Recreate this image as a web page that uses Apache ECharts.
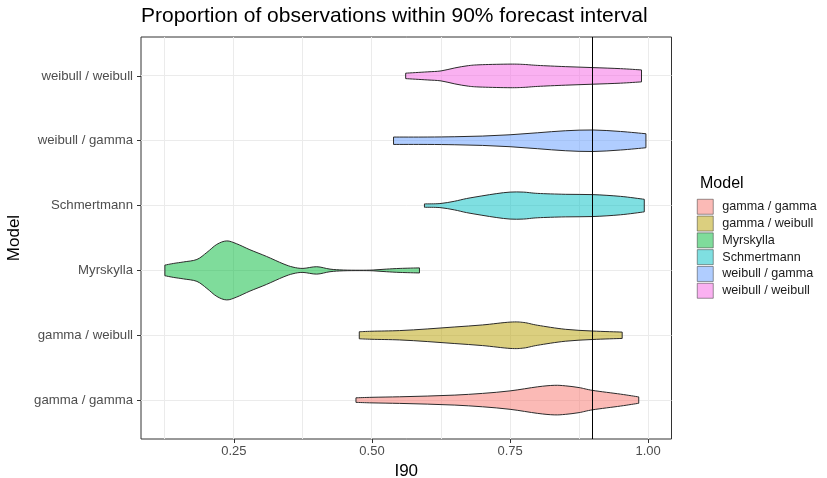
<!DOCTYPE html>
<html>
<head>
<meta charset="utf-8">
<script src="https://cdn.jsdelivr.net/npm/echarts@6/dist/echarts.min.js"></script>
<style>
  html,body{margin:0;padding:0;background:#fff;}
  #chart{width:827px;height:478px;}
</style>
</head>
<body>
<div id="chart"></div>
<script>
// categories, bottom to top
const models = ['gamma / gamma', 'gamma / weibull', 'Myrskylla', 'Schmertmann', 'weibull / gamma', 'weibull / weibull']
const colours = ['#F8766D', '#B79F00', '#00BA38', '#00BFC4', '#619CFF', '#F564E3']

const xTicks = [0.25, 0.5, 0.75, 1.0]
const xMinorGrid = [0.125, 0.375, 0.625, 0.875]
const refLine = 0.9

// violin outlines: I90 value and half width (in category units)
const gammaGammaX = [0.471, 0.50, 0.55, 0.60, 0.65, 0.70, 0.75, 0.80, 0.83, 0.85, 0.875, 0.90, 0.95, 0.983]
const gammaGammaW = [0.035, 0.043, 0.051, 0.062, 0.077, 0.103, 0.142, 0.205, 0.228, 0.220, 0.193, 0.149, 0.092, 0.049]

const gammaWeibullX = [0.477, 0.50, 0.55, 0.60, 0.65, 0.70, 0.75, 0.775, 0.80, 0.85, 0.90, 0.953]
const gammaWeibullW = [0.054, 0.062, 0.072, 0.097, 0.128, 0.159, 0.203, 0.197, 0.154, 0.092, 0.065, 0.049]

const myrskyllaX = [0.125, 0.141, 0.159, 0.183, 0.201, 0.219, 0.237, 0.255, 0.279, 0.309, 0.339, 0.357, 0.375, 0.400, 0.424, 0.448, 0.478, 0.502, 0.526, 0.551, 0.586]
const myrskyllaW = [0.082, 0.108, 0.131, 0.169, 0.277, 0.401, 0.455, 0.411, 0.319, 0.216, 0.103, 0.051, 0.031, 0.057, 0.020, 0.006, 0.003, 0.006, 0.020, 0.031, 0.039]

const schmertmannX = [0.595, 0.623, 0.649, 0.671, 0.699, 0.726, 0.750, 0.774, 0.800, 0.850, 0.900, 0.950, 0.993]
const schmertmannW = [0.026, 0.031, 0.066, 0.108, 0.149, 0.185, 0.208, 0.208, 0.188, 0.174, 0.169, 0.142, 0.097]

const weibullGammaX = [0.539, 0.60, 0.65, 0.70, 0.75, 0.80, 0.85, 0.90, 0.95, 0.996]
const weibullGammaW = [0.057, 0.057, 0.062, 0.072, 0.092, 0.123, 0.154, 0.166, 0.143, 0.108]

const weibullWeibullX = [0.561, 0.60, 0.625, 0.65, 0.675, 0.70, 0.75, 0.775, 0.80, 0.85, 0.90, 0.95, 0.988]
const weibullWeibullW = [0.042, 0.062, 0.077, 0.123, 0.159, 0.173, 0.182, 0.177, 0.162, 0.143, 0.128, 0.112, 0.092]

const profiles = [
  [gammaGammaX, gammaGammaW],
  [gammaWeibullX, gammaWeibullW],
  [myrskyllaX, myrskyllaW],
  [schmertmannX, schmertmannW],
  [weibullGammaX, weibullGammaW],
  [weibullWeibullX, weibullWeibullW]
]

const font = '"Liberation Sans", Arial, Helvetica, sans-serif'
const xMin = 0.0818, xMax = 1.0423
const yMin = -0.6, yMax = 5.6

const hexToRgba = (hex, a) => {
  const n = parseInt(hex.slice(1), 16)
  return 'rgba(' + (n >> 16) + ',' + ((n >> 8) & 255) + ',' + (n & 255) + ',' + a + ')'
}

// snap a 1px line onto the pixel grid so it stays crisp
const crisp = v => Math.round(v - 0.5) + 0.5

// catmull-rom through the outline points so the edge looks smooth
const curveThrough = (pts) => {
  let d = ''
  for (let i = 0; i < pts.length - 1; i++) {
    const p0 = pts[i - 1] || pts[i]
    const p1 = pts[i]
    const p2 = pts[i + 1]
    const p3 = pts[i + 2] || pts[i + 1]
    const c1 = [p1[0] + (p2[0] - p0[0]) / 6, p1[1] + (p2[1] - p0[1]) / 6]
    const c2 = [p2[0] - (p3[0] - p1[0]) / 6, p2[1] - (p3[1] - p1[1]) / 6]
    d += 'C' + c1[0] + ',' + c1[1] + ' ' + c2[0] + ',' + c2[1] + ' ' + p2[0] + ',' + p2[1]
  }
  return d
}

const violinSeries = models.map((name, i) => ({
  name: name,
  type: 'custom',
  z: 3,
  itemStyle: { color: hexToRgba(colours[i], 0.5), borderColor: '#333333', borderWidth: 0.5 },
  encode: { x: 0, y: 1 },
  data: [[0.5, i]],
  renderItem: (params, api) => {
    const cat = api.value(1)
    const xs = profiles[i][0]
    const ws = profiles[i][1]
    const top = xs.map((x, k) => api.coord([x, cat + ws[k]]))
    const bottom = xs.map((x, k) => api.coord([x, cat - ws[k]])).reverse()
    let d = 'M' + top[0][0] + ',' + top[0][1]
    d += curveThrough(top)
    d += 'L' + bottom[0][0] + ',' + bottom[0][1]
    d += curveThrough(bottom)
    d += 'Z'
    return {
      type: 'path',
      shape: { pathData: d },
      style: { fill: hexToRgba(colours[i], 0.5), stroke: '#2b2b2b', lineWidth: 1 }
    }
  }
}))

const vLines = (name, values, colour, z) => ({
  name: name,
  type: 'custom',
  z: z,
  silent: true,
  encode: { x: 0, y: 1 },
  data: values.map(v => [v, 2.5]),
  renderItem: (params, api) => {
    const a = api.coord([api.value(0), yMin])
    const b = api.coord([api.value(0), yMax])
    const x = crisp(a[0])
    return { type: 'line', shape: { x1: x, y1: a[1], x2: x, y2: b[1] }, style: { stroke: colour, lineWidth: 1 } }
  }
})

const hLines = {
  name: 'hgrid',
  type: 'custom',
  z: 1,
  silent: true,
  encode: { x: 0, y: 1 },
  data: models.map((m, i) => [0.5, i]),
  renderItem: (params, api) => {
    const a = api.coord([xMin, api.value(1)])
    const b = api.coord([xMax, api.value(1)])
    const y = crisp(a[1])
    return { type: 'line', shape: { x1: a[0], y1: y, x2: b[0], y2: y }, style: { stroke: '#EBEBEB', lineWidth: 1 } }
  }
}

const chart = echarts.init(document.getElementById('chart'), null, { renderer: 'canvas' })

chart.setOption({
  animation: false,
  backgroundColor: '#ffffff',
  textStyle: { fontFamily: font },
  title: [
    {
      text: 'Proportion of observations within 90% forecast interval',
      left: 141, top: 6, padding: 0,
      textStyle: { fontSize: 21, fontWeight: 'normal', color: '#000', fontFamily: font }
    },
    {
      text: 'Model',
      left: 700, top: 176, padding: 0,
      textStyle: { fontSize: 16, fontWeight: 'normal', color: '#000', fontFamily: font }
    }
  ],
  legend: {
    data: models,
    orient: 'vertical',
    left: 697, top: 199,
    padding: 0,
    icon: 'rect',
    itemWidth: 16, itemHeight: 15, itemGap: 1.3,
    itemStyle: { borderColor: '#333333', borderWidth: 0.5 },
    textStyle: { fontSize: 12.6, color: '#1a1a1a', fontFamily: font, padding: [0, 0, 0, 4] }
  },
  grid: {
    left: 141, right: 155.5, top: 37, bottom: 39,
    containLabel: false,
    outerBoundsMode: 'none',
    show: true, borderColor: '#333333', borderWidth: 1, backgroundColor: '#ffffff'
  },
  xAxis: {
    type: 'value',
    min: xMin, max: xMax,
    name: 'I90', nameLocation: 'middle', nameGap: 22,
    nameTextStyle: { fontSize: 17, color: '#000', fontFamily: font },
    axisLine: { show: false, onZero: false },
    axisTick: { show: true, length: 4, lineStyle: { color: '#333333' }, customValues: xTicks },
    axisLabel: { customValues: xTicks, margin: 6, fontSize: 13, color: '#4D4D4D', fontFamily: font, formatter: v => v.toFixed(2) },
    splitLine: { show: false }
  },
  yAxis: {
    type: 'value',
    min: yMin, max: yMax,
    name: 'Model', nameLocation: 'middle', nameGap: 118, nameRotate: 90,
    nameTextStyle: { fontSize: 17, color: '#000', fontFamily: font },
    axisLine: { show: false, onZero: false },
    axisTick: { show: true, length: 4, lineStyle: { color: '#333333' }, customValues: [0, 1, 2, 3, 4, 5] },
    axisLabel: { customValues: [0, 1, 2, 3, 4, 5], margin: 8, fontSize: 13.2, color: '#4D4D4D', fontFamily: font, formatter: v => models[Math.round(v)] },
    splitLine: { show: false }
  },
  series: [
    vLines('xgrid', xTicks.concat(xMinorGrid), '#EBEBEB', 1),
    hLines,
    ...violinSeries,
    vLines('ref', [refLine], '#000000', 5)
  ]
})
</script>
</body>
</html>
